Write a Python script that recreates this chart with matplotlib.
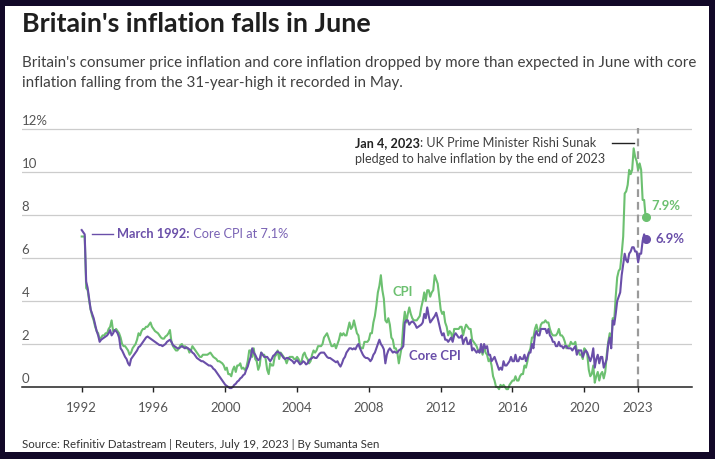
import matplotlib
matplotlib.use("Agg")
import matplotlib.pyplot as plt
import numpy as np

plt.rcParams['font.family'] = ['Lato', 'DejaVu Sans']

# ---------------- data (monthly annual rates, %) ----------------
start_year = 1992
cpi = [
    # 1992
    7.0, 7.0, 7.0, 4.6, 4.5, 4.0, 3.6, 3.3, 3.1, 2.8, 2.6, 2.5,
    # 1993
    2.2, 2.3, 2.4, 2.4, 2.5, 2.5, 2.7, 2.8, 3.1, 2.6, 2.6, 2.7,
    # 1994
    2.6, 2.5, 2.3, 2.0, 1.9, 1.9, 1.8, 1.7, 1.5, 1.6, 1.8, 1.9,
    # 1995
    2.0, 2.2, 2.5, 2.4, 2.6, 2.7, 2.7, 2.8, 2.8, 2.9, 3.0, 2.8,
    # 1996
    2.7, 2.6, 2.55, 2.5, 2.4, 2.3, 2.25, 2.25, 2.35, 2.4, 2.5, 2.65,
    # 1997
    2.1, 1.9, 1.8, 1.7, 1.7, 1.8, 1.95, 2.0, 1.85, 1.9, 1.8, 1.8,
    # 1998
    1.6, 1.7, 1.9, 1.8, 1.7, 1.6, 1.5, 1.4, 1.4, 1.5, 1.5, 1.5,
    # 1999
    1.5, 1.55, 1.6, 1.5, 1.4, 1.35, 1.3, 1.2, 1.2, 1.15, 1.1, 1.0,
    # 2000
    0.8, 0.9, 0.6, 0.6, 0.5, 0.8, 0.95, 0.7, 1.0, 1.0, 1.1, 0.85,
    # 2001
    0.9, 0.8, 0.9, 1.2, 1.7, 1.7, 1.4, 1.8, 1.3, 1.2, 0.8, 1.0,
    # 2002
    1.6, 1.5, 1.5, 1.3, 0.8, 0.6, 1.1, 1.0, 1.0, 1.4, 1.5, 1.7,
    # 2003
    1.3, 1.6, 1.5, 1.4, 1.3, 1.1, 1.3, 1.4, 1.4, 1.4, 1.3, 1.3,
    # 2004
    1.4, 1.3, 1.1, 1.2, 1.5, 1.6, 1.4, 1.3, 1.1, 1.2, 1.5, 1.7,
    # 2005
    1.6, 1.7, 1.9, 1.9, 1.9, 2.0, 2.3, 2.4, 2.5, 2.3, 2.1, 1.9,
    # 2006
    1.9, 2.0, 1.8, 2.0, 2.2, 2.5, 2.4, 2.5, 2.4, 2.4, 2.7, 3.0,
    # 2007
    2.7, 2.8, 3.1, 2.8, 2.5, 2.4, 1.9, 1.8, 1.8, 2.1, 2.1, 2.1,
    # 2008
    2.2, 2.5, 2.5, 3.0, 3.3, 3.8, 4.4, 4.7, 5.2, 4.5, 4.1, 3.1,
    # 2009
    3.0, 3.2, 2.9, 2.3, 2.2, 1.8, 1.8, 1.6, 1.1, 1.5, 1.9, 2.9,
    # 2010
    3.5, 3.0, 3.4, 3.7, 3.4, 3.2, 3.1, 3.1, 3.1, 3.2, 3.3, 3.7,
    # 2011
    4.0, 4.4, 4.0, 4.5, 4.5, 4.2, 4.4, 4.5, 5.2, 5.0, 4.8, 4.2,
    # 2012
    3.6, 3.4, 3.5, 3.0, 2.8, 2.4, 2.6, 2.5, 2.2, 2.7, 2.7, 2.7,
    # 2013
    2.7, 2.8, 2.8, 2.4, 2.7, 2.9, 2.8, 2.7, 2.7, 2.2, 2.1, 2.0,
    # 2014
    1.9, 1.7, 1.6, 1.8, 1.5, 1.9, 1.6, 1.5, 1.2, 1.3, 1.0, 0.5,
    # 2015
    0.3, 0.0, 0.0, -0.1, 0.1, 0.0, 0.1, 0.0, -0.1, -0.1, 0.1, 0.2,
    # 2016
    0.3, 0.3, 0.5, 0.3, 0.3, 0.5, 0.6, 0.6, 1.0, 0.9, 1.2, 1.6,
    # 2017
    1.8, 2.3, 2.3, 2.7, 2.9, 2.6, 2.6, 2.9, 3.0, 3.0, 3.1, 3.0,
    # 2018
    3.0, 2.7, 2.5, 2.4, 2.4, 2.4, 2.5, 2.7, 2.4, 2.4, 2.3, 2.1,
    # 2019
    1.8, 1.9, 1.9, 2.1, 2.0, 2.0, 2.1, 1.7, 1.7, 1.5, 1.5, 1.3,
    # 2020
    1.8, 1.7, 1.5, 0.8, 0.5, 0.6, 1.0, 0.2, 0.5, 0.7, 0.3, 0.6,
    # 2021
    0.7, 0.4, 0.7, 1.5, 2.1, 2.5, 2.0, 3.2, 3.1, 4.2, 5.1, 5.4,
    # 2022
    5.5, 6.2, 7.0, 9.0, 9.1, 9.4, 10.1, 9.9, 10.1, 11.1, 10.7, 10.5,
    # 2023
    10.1, 10.4, 10.1, 8.7, 8.7, 7.9,
]
core = [
    # 1992
    7.3, 7.2, 7.1, 4.9, 4.6, 4.1, 3.6, 3.4, 3.2, 2.9, 2.6, 2.4,
    # 1993
    2.1, 2.2, 2.25, 2.3, 2.35, 2.4, 2.5, 2.65, 2.4, 2.5, 2.65, 2.6,
    # 1994
    2.5, 2.3, 1.8, 1.7, 1.55, 1.4, 1.3, 1.1, 1.0, 1.3, 1.4, 1.5,
    # 1995
    1.6, 1.7, 1.85, 1.9, 2.0, 2.1, 2.2, 2.3, 2.35, 2.3, 2.25, 2.2,
    # 1996
    2.15, 2.1, 2.05, 2.0, 1.95, 1.95, 1.9, 1.95, 2.0, 2.1, 2.15, 2.2,
    # 1997
    2.1, 1.95, 1.9, 1.85, 1.8, 1.8, 1.85, 1.9, 1.85, 1.8, 1.85, 1.8,
    # 1998
    1.75, 1.7, 1.6, 1.55, 1.45, 1.35, 1.3, 1.25, 1.2, 1.2, 1.15, 1.1,
    # 1999
    1.05, 1.0, 1.0, 0.95, 0.85, 0.8, 0.7, 0.6, 0.5, 0.4, 0.3, 0.2,
    # 2000
    0.1, 0.05, 0.0, -0.05, -0.05, 0.0, 0.1, 0.15, 0.25, 0.3, 0.4, 0.45,
    # 2001
    0.55, 0.6, 0.8, 0.95, 1.2, 1.4, 1.8, 1.6, 1.5, 1.35, 1.25, 1.3,
    # 2002
    1.6, 1.5, 1.4, 1.4, 1.4, 1.3, 1.2, 1.3, 1.45, 1.5, 1.6, 1.65,
    # 2003
    1.6, 1.55, 1.45, 1.35, 1.3, 1.35, 1.35, 1.3, 1.25, 1.2, 1.1, 1.2,
    # 2004
    1.25, 1.15, 1.05, 1.1, 1.2, 1.15, 1.05, 1.1, 1.25, 1.3, 1.35, 1.4,
    # 2005
    1.35, 1.35, 1.45, 1.55, 1.6, 1.6, 1.6, 1.5, 1.4, 1.35, 1.35, 1.3,
    # 2006
    1.25, 1.2, 1.15, 1.2, 1.05, 0.95, 1.1, 1.3, 1.4, 1.6, 1.7, 1.8,
    # 2007
    1.8, 1.75, 1.8, 1.75, 1.9, 2.0, 1.8, 1.65, 1.5, 1.4, 1.35, 1.35,
    # 2008
    1.3, 1.2, 1.3, 1.5, 1.6, 1.8, 2.0, 2.2, 2.0, 1.9, 1.75, 1.1,
    # 2009
    1.5, 1.7, 1.8, 1.7, 1.6, 1.65, 1.6, 1.6, 1.7, 1.75, 1.8, 1.9,
    # 2010
    3.0, 3.1, 3.1, 2.9, 3.0, 3.05, 3.0, 2.9, 2.75, 2.8, 2.85, 2.9,
    # 2011
    3.0, 3.4, 3.2, 3.7, 3.3, 3.0, 3.1, 3.2, 3.3, 3.45, 3.2, 2.9,
    # 2012
    2.6, 2.4, 2.5, 2.2, 2.2, 2.1, 2.2, 2.3, 2.1, 2.4, 2.5, 2.4,
    # 2013
    2.3, 2.3, 2.4, 2.0, 2.2, 2.3, 2.0, 2.0, 2.2, 1.7, 1.8, 1.7,
    # 2014
    1.6, 1.7, 1.6, 2.0, 1.6, 2.0, 1.8, 1.9, 1.5, 1.5, 1.2, 1.3,
    # 2015
    1.4, 1.2, 1.0, 0.8, 0.9, 0.8, 1.2, 1.0, 1.0, 1.1, 1.2, 1.4,
    # 2016
    1.2, 1.2, 1.5, 1.2, 1.2, 1.4, 1.3, 1.3, 1.5, 1.2, 1.4, 1.6,
    # 2017
    1.6, 2.0, 1.8, 2.4, 2.6, 2.4, 2.4, 2.7, 2.7, 2.7, 2.7, 2.5,
    # 2018
    2.7, 2.4, 2.3, 2.1, 2.1, 1.9, 1.9, 2.1, 1.9, 1.9, 1.8, 1.9,
    # 2019
    1.9, 1.8, 1.8, 1.8, 1.7, 1.8, 1.9, 1.5, 1.7, 1.7, 1.7, 1.4,
    # 2020
    1.6, 1.7, 1.6, 1.4, 1.2, 1.4, 1.8, 0.9, 1.3, 1.5, 1.1, 1.4,
    # 2021
    1.4, 0.9, 1.1, 1.3, 2.0, 2.3, 1.8, 3.1, 2.9, 3.4, 4.0, 4.2,
    # 2022
    4.4, 5.2, 5.7, 6.2, 5.9, 5.8, 6.2, 6.3, 6.5, 6.5, 6.3, 6.3,
    # 2023
    5.8, 6.2, 6.2, 6.8, 7.1, 6.9,
]
xtick_years = [1992, 1996, 2000, 2004, 2008, 2012, 2016, 2020, 2023]
ytick_vals = [0, 2, 4, 6, 8, 10, 12]
ytick_labels = ["0", "2", "4", "6", "8", "10", "12%"]
pledge_date = 2023.0   # Jan 2023
title = "Britain's inflation falls in June"
subtitle1 = ("Britain's consumer price inflation and core inflation dropped by more than "
             "expected in June with core")
subtitle2 = "inflation falling from the 31-year-high it recorded in May."
source = "Source: Refinitiv Datastream | Reuters, July 19, 2023 | By Sumanta Sen"

# ---------------- styling ----------------
GREEN = "#6cc070"
PURPLE = "#6a4fa9"
W, H = 715, 459

fig = plt.figure(figsize=(W / 100, H / 100), dpi=100, facecolor="#120828")
bg = plt.Rectangle((5 / W, 1 - 452 / H), 704 / W, 446 / H,
                   transform=fig.transFigure, facecolor="white",
                   edgecolor="none", zorder=-10)
fig.patches.append(bg)
renderer = fig.canvas.get_renderer()


def px(x, y):
    return x / W, 1 - y / H


def fit(t, width):
    w = t.get_window_extent(renderer).width
    t.set_fontsize(t.get_fontsize() * width / w)
    return t.get_fontsize()


# axes: x from 21.7 to 691.7 px, y 0 at 387px, 21.5 px per 1%
ylo, yhi = -0.35, 12.25
ax_bottom = 387 + (0 - ylo) * 21.5
ax_top = 387 - yhi * 21.5
ax = fig.add_axes([21.7 / W, 1 - ax_bottom / H, 670 / W, (ax_bottom - ax_top) / H])
ax.set_zorder(5)
ax.patch.set_visible(False)
xlo = 1992 - (81.7 - 21.7) / 17.95
xhi = 1992 + (691.7 - 81.7) / 17.95
ax.set_xlim(xlo, xhi)
ax.set_ylim(ylo, yhi)

n1, n2 = len(cpi), len(core)
x_cpi = start_year + np.arange(n1) / 12.0
x_core = start_year + np.arange(n2) / 12.0

for v in ytick_vals[1:]:
    ax.axhline(v, color="#cccccc", lw=0.9, zorder=1)

ax.plot(x_cpi, cpi, color=GREEN, lw=1.5, zorder=3, solid_joinstyle="round")
ax.plot(x_core, core, color=PURPLE, lw=1.5, zorder=4, solid_joinstyle="round")
ax.plot(x_cpi[-1], cpi[-1], "o", color=GREEN, ms=5.5, zorder=5)
ax.plot(x_core[-1], core[-1], "o", color=PURPLE, ms=5.5, zorder=5)

ax.plot([pledge_date, pledge_date], [0, 12.05], color="#9a9a9a", lw=1.6,
        ls=(0, (3.5, 2.2)), zorder=2)

for s in ["top", "right", "left"]:
    ax.spines[s].set_visible(False)
ax.spines["bottom"].set_position(("data", 0))
ax.spines["bottom"].set_color("#222222")
ax.spines["bottom"].set_linewidth(1.1)
ax.spines["bottom"].set_zorder(6)
ax.set_yticks([])
ax.set_xticks(xtick_years)
ax.set_xticklabels([str(y) for y in xtick_years])
ax.tick_params(axis="x", direction="out", length=3.5, width=1, color="#222222",
               labelsize=9.5, labelcolor="#555555", pad=7)

for v, lab in zip(ytick_vals, ytick_labels):
    ax.text(0.0, v + 0.37, lab, transform=ax.get_yaxis_transform(),
            ha="left", va="center", fontsize=9.5, color="#555555")

# ---------------- header / footer ----------------
t = fig.text(*px(22, 31.7), title, fontsize=16, fontweight="bold",
             color="#1f1f1f", ha="left", va="baseline")
fit(t, 352)
s1 = fig.text(*px(22, 63), subtitle1, fontsize=11, color="#404040",
              ha="left", va="center")
fs = fit(s1, 674)
fig.text(*px(22, 83), subtitle2, fontsize=fs, color="#404040",
         ha="left", va="center")
so = fig.text(*px(22, 445), source, fontsize=8.5, color="#333333",
              ha="left", va="center")
fit(so, 358)

# ---------------- annotations ----------------
# March 1992
ax.plot([1992.55, 1993.72], [7.1, 7.1], color=PURPLE, lw=1, zorder=4)
b = ax.text(1993.98, 7.1, "March 1992:", fontweight="bold", color=PURPLE,
            fontsize=9.5, ha="left", va="center")
r = ax.text(0, 7.1, " Core CPI at 7.1%", color="#7a63b5", fontsize=9.5,
            ha="left", va="center")


def place_after(first, second, total):
    for _ in range(3):
        fig.canvas.draw()
        e1 = first.get_window_extent(renderer)
        x_after = ax.transData.inverted().transform((e1.x1, 0))[0]
        second.set_x(x_after)
        e2 = second.get_window_extent(renderer)
        w = e2.x1 - e1.x0
        sc = total / w
        first.set_fontsize(first.get_fontsize() * sc)
        second.set_fontsize(second.get_fontsize() * sc)
    fig.canvas.draw()
    e1 = first.get_window_extent(renderer)
    second.set_x(ax.transData.inverted().transform((e1.x1, 0))[0])


place_after(b, r, 171)

# Jan 4, 2023
ax.plot([2021.53, 2022.75], [11.35, 11.35], color="#222222", lw=1, zorder=4)
l2 = ax.text(2007.21, 10.6, "pledged to halve inflation by the end of 2023",
             color="#404040", fontsize=9.5, ha="left", va="center")
afs = fit(l2, 252)
jb = ax.text(2007.21, 11.35, "Jan 4, 2023", fontweight="bold", color="#222222",
             fontsize=afs, ha="left", va="center")
fig.canvas.draw()
e = jb.get_window_extent(renderer)
jr = ax.text(ax.transData.inverted().transform((e.x1, 0))[0], 11.35,
             ": UK Prime Minister Rishi Sunak", color="#404040", fontsize=afs,
             ha="left", va="center")

# series labels
cl = ax.text(2010.22, 1.44, "Core CPI", color=PURPLE, fontweight="bold",
             fontsize=10, ha="left", va="center")
lfs = fit(cl, 52)
ax.text(2009.88, 4.42, "CPI", color=GREEN, fontweight="bold", fontsize=lfs,
        ha="center", va="center")
ax.text(2023.75, 8.42, f"{cpi[-1]:.1f}%", color=GREEN, fontweight="bold",
        fontsize=lfs, ha="left", va="center")
ax.text(2023.98, 6.88, f"{core[-1]:.1f}%", color=PURPLE, fontweight="bold",
        fontsize=lfs, ha="left", va="center")

fig.savefig("out.png", dpi=100, facecolor=fig.get_facecolor())
